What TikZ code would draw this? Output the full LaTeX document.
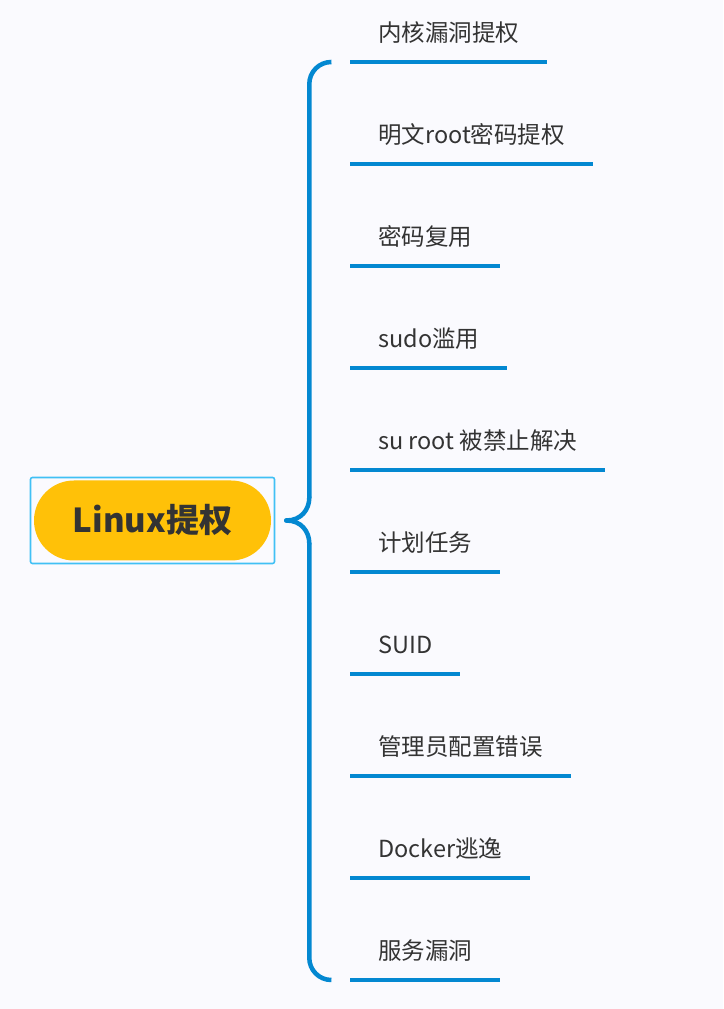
\documentclass[tikz,border=0pt]{standalone}
\usepackage{fontspec}
\setmainfont{Noto Sans CJK SC}
\usepackage{xcolor}
\definecolor{pagebg}{RGB}{250,250,254}
\definecolor{branchblue}{RGB}{3,136,209}
\definecolor{frameblue}{RGB}{64,192,245}
\definecolor{pillyellow}{RGB}{255,193,8}
\definecolor{inktext}{RGB}{51,51,51}
\tikzset{
    brace/.style={line width=4.5pt, draw=branchblue, line cap=round}, % the curly bracket
    twig/.style={line width=4pt, draw=branchblue}, % line under a branch
    next/.style={yshift=-102pt}, % gap between two branches
    topic/.style={anchor=base west, inner xsep=28pt, inner ysep=0pt, yshift=20pt,
        text=inktext, font=\fontsize{23.5}{28}\selectfont},
    frame/.style={draw=frameblue, line width=1.6pt, rounded corners=2pt,
        minimum width=244pt, minimum height=86pt},
    pill/.style={fill=pillyellow, rounded corners=40pt, minimum width=237pt,
        minimum height=80pt, text=inktext, font=\fontsize{33}{38}\selectfont\bfseries},
}

\begin{document}
\begin{tikzpicture}[x=1pt, y=1pt]
    \fill[pagebg] (0,0) rectangle (723,1009);
    \useasboundingbox (0,0) rectangle (723,1009);

    % Wurzel
    \node[frame] (frame) at (152.5,488.5) {};
    \node[pill] (root) at (frame.center) {Linux提权};

    % Zweige
    \coordinate (u0) at (350,947);
    \coordinate (u1) at ([next]u0);
    \coordinate (u2) at ([next]u1);
    \coordinate (u3) at ([next]u2);
    \coordinate (u4) at ([next]u3);
    \coordinate (u5) at ([next]u4);
    \coordinate (u6) at ([next]u5);
    \coordinate (u7) at ([next]u6);
    \coordinate (u8) at ([next]u7);
    \coordinate (u9) at ([next]u8);

    \node[topic] (t0) at (u0) {内核漏洞提权};
    \node[topic] (t1) at (u1) {明文root密码提权};
    \node[topic] (t2) at (u2) {密码复用};
    \node[topic] (t3) at (u3) {sudo滥用};
    \node[topic] (t4) at (u4) {su root 被禁止解决};
    \node[topic] (t5) at (u5) {计划任务};
    \node[topic] (t6) at (u6) {SUID};
    \node[topic] (t7) at (u7) {管理员配置错误};
    \node[topic] (t8) at (u8) {Docker逃逸};
    \node[topic] (t9) at (u9) {服务漏洞};

    \draw[twig] (u0) -- (t0.base east |- u0);
    \draw[twig] (u1) -- (t1.base east |- u1);
    \draw[twig] (u2) -- (t2.base east |- u2);
    \draw[twig] (u3) -- (t3.base east |- u3);
    \draw[twig] (u4) -- (t4.base east |- u4);
    \draw[twig] (u5) -- (t5.base east |- u5);
    \draw[twig] (u6) -- (t6.base east |- u6);
    \draw[twig] (u7) -- (t7.base east |- u7);
    \draw[twig] (u8) -- (t8.base east |- u8);
    \draw[twig] (u9) -- (t9.base east |- u9);

    % Klammer
    \coordinate (tip) at ([xshift=11pt]frame.east);
    \draw[brace] (tip) .. controls +(15,0) and +(0,-12) .. ++(23,23);
    \draw[brace] (tip) .. controls +(15,0) and +(0,12) .. ++(23,-23);
    \draw[brace, rounded corners=22pt] ([xshift=23pt,yshift=23pt]tip) |- ([xshift=-19pt]u0);
    \draw[brace, rounded corners=22pt] ([xshift=23pt,yshift=-23pt]tip) |- ([xshift=-19pt]u9);
\end{tikzpicture}
\end{document}
